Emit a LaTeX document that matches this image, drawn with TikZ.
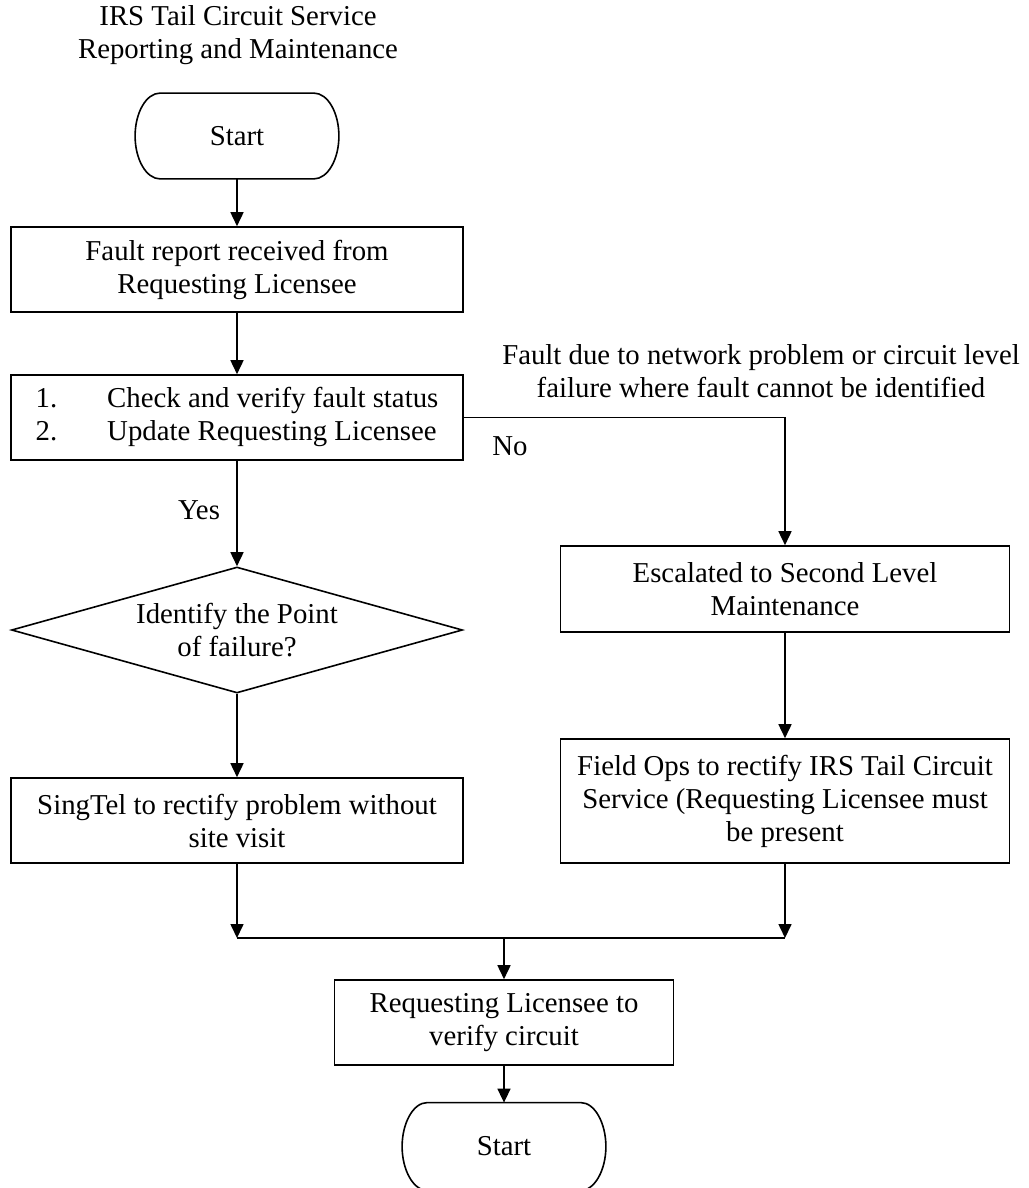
\documentclass[tikz,border=0pt]{standalone}
\usepackage{fontspec}
\setmainfont{Liberation Serif}
\usetikzlibrary{arrows.meta,shapes.geometric}
\newcommand\termoutline[1]{%
  \draw[line width=0.8pt] ([xshift=12.5pt]#1.north west) -- ([xshift=-12.5pt]#1.north east)
    .. controls +(6.9pt,0pt) and +(0pt,11.74pt) .. (#1.east)
    .. controls +(0pt,-11.74pt) and +(6.9pt,0pt) .. ([xshift=-12.5pt]#1.south east)
    -- ([xshift=12.5pt]#1.south west)
    .. controls +(-6.9pt,0pt) and +(0pt,-11.74pt) .. (#1.west)
    .. controls +(0pt,11.74pt) and +(-6.9pt,0pt) .. ([xshift=12.5pt]#1.north west) -- cycle;}
\begin{document}
\begin{tikzpicture}[x=0.5pt,y=-0.5pt,
  every node/.style={font=\fontsize{14.4}{16.5}\selectfont, inner sep=0pt, align=center},
  procbox/.style={draw, line width=0.8pt, rectangle},
  termbox/.style={rectangle, minimum width=101.5pt, minimum height=42.5pt},
  decbox/.style={draw, line width=0.8pt, diamond, shape aspect=3.58, minimum width=225.5pt, minimum height=63pt},
  flow/.style={draw, line width=0.8pt, -{Triangle[length=7pt,width=6.5pt]}},
  conn/.style={draw, line width=0.8pt}
]
\useasboundingbox (0,0) rectangle (1028,1188);

\node (title) at (238,35) {IRS Tail Circuit Service\\Reporting and Maintenance};
\node[termbox] (start) at (237,136) {Start};
\termoutline{start}
\node[procbox, minimum width=226pt, minimum height=42.5pt] (fault) at (237,269.5) {Fault report received from\\Requesting Licensee};
\node[procbox, minimum width=226pt, minimum height=42.5pt] (check) at (237,417.5) {\begin{tabular}{@{}l@{\hspace{25pt}}l@{}}1. & Check and verify fault status\\2. & Update Requesting Licensee\end{tabular}};
\node[decbox] (ident) at (237,630) {Identify the Point\\of failure?};
\node[procbox, minimum width=226pt, minimum height=42.5pt] (singtel) at (237,820.5) {SingTel to rectify problem without\\site visit};
\node[procbox, minimum width=224.5pt, minimum height=43pt] (escal) at (785,589) {Escalated to Second Level\\Maintenance};
\node[procbox, minimum width=224.5pt, minimum height=62pt] (fieldops) at (785,801) {Field Ops to rectify IRS Tail Circuit\\Service (Requesting Licensee must\\be present};
\node[procbox, minimum width=169.5pt, minimum height=42.5pt] (verify) at (504,1022.5) {Requesting Licensee to\\verify circuit};
\node[termbox, minimum height=43.5pt] (endnode) at (504,1146.5) {Start};
\termoutline{endnode}

\node (yes) at (199,510) {Yes};
\node (no) at (510,446) {No};
\node (why) at (761,371) {Fault due to network problem or circuit level\\failure where fault cannot be identified};

\coordinate (mergeL) at (237,938);
\coordinate (mergeR) at (785,938);
\coordinate (mergeM) at (504,938);

\draw[flow] (start) -- (fault);
\draw[flow] (fault) -- (check);
\draw[flow] (check) -- (ident);
\draw[flow] (check.east) -| (escal.north);
\draw[flow] (escal) -- (fieldops);
\draw[flow] (ident) -- (singtel);
\draw[flow] (singtel.south) -- (mergeL);
\draw[flow] (fieldops.south) -- (mergeR);
\draw[conn] (mergeL) -- (mergeR);
\draw[flow] (mergeM) -- (verify);
\draw[flow] (verify) -- (endnode);
\end{tikzpicture}
\end{document}
